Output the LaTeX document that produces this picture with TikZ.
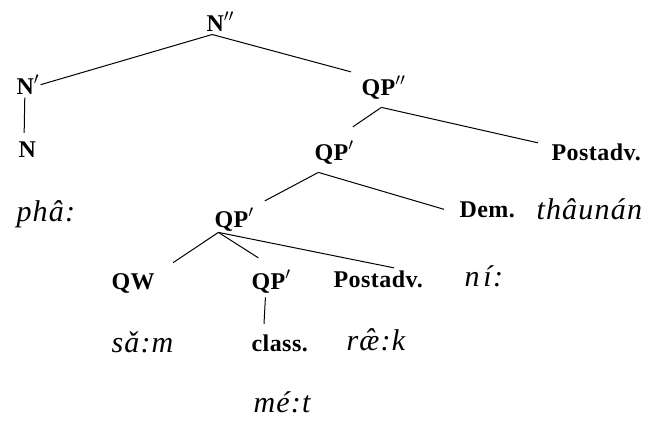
\documentclass[tikz,border=0pt]{standalone}
\usepackage{fontspec}
\setmainfont{Liberation Serif}
\newfontfamily\catfont[LetterSpace=2]{Liberation Serif}
\newfontfamily\wordfont[LetterSpace=4]{Liberation Serif}
\begin{document}
\begin{tikzpicture}[
    x=1pt, y=-1pt, line width=1pt,
    cat/.style={anchor=base west, inner sep=1pt, font=\catfont\bfseries\fontsize{24}{28}\selectfont},
    word/.style={anchor=base west, inner sep=1pt, font=\wordfont\itshape\fontsize{30}{34}\selectfont},
]
    \useasboundingbox (0,0) rectangle (647,421);

    % Categories
    \node[cat] (nn2) at (205,31) {N\rlap{$''$}};
    \node[cat] (nn1) at (15,94) {N$'$};
    \node[cat] (nn) at (17,157) {N};
    \node[cat] (qp2) at (360,95) {QP\rlap{$''$}};
    \node[cat] (qp1a) at (313,160) {QP\rlap{$'$}};
    \node[cat] (pa1) at (550,160) {Postadv.};
    \node[cat] (dem) at (458,217) {Dem.};
    \node[cat] (qp1b) at (213,227) {QP\rlap{$'$}};
    \node[cat] (qw) at (110,289) {QW};
    \node[cat] (qp1c) at (250,289) {QP\rlap{$'$}};
    \node[cat] (pa2) at (332,287) {Postadv.};
    \node[cat] (cl) at (250,351) {class.};

    % Words
    \node[word] (pha) at (15,221) {phâ:};
    \node[word] (thau) at (535,219) {thâunán};
    \node[word] (ni) at (463,286) {n\hspace{4pt}í:};
    \node[word] (sam) at (110,352) {sǎ:m};
    \node[word] (raek) at (345,350) {ræ̂:k};
    \node[word] (met) at (252,412) {mé:t};

    % Branches
    \coordinate (nn2-b) at ([xshift=-3pt,yshift=-2pt]nn2.south);
    \coordinate (qp2-b) at ([xshift=3pt,yshift=-7pt]qp2.south);
    \coordinate (qp1a-b) at ([xshift=-13pt,yshift=-7pt]qp1a.south);
    \coordinate (qp1b-b) at ([xshift=-13pt,yshift=0pt]qp1b.south);

    \draw (nn2-b) -- (nn1.east);
    \draw (nn2-b) -- ([xshift=-9pt,yshift=3pt]qp2.north west);
    \draw ([xshift=-3pt,yshift=-2pt]nn1.south) -- ([xshift=-3pt,yshift=7pt]nn.north);

    \draw (qp2-b) -- ([xshift=3pt,yshift=13pt]qp1a.north east);
    \draw (qp2-b) -- ([xshift=-12pt,yshift=-1pt]pa1.north west);

    \draw (qp1a-b) -- ([xshift=15pt,yshift=6pt]qp1b.north east);
    \draw (qp1a-b) -- ([xshift=-14pt]dem.west);

    \draw (qp1b-b) -- ([xshift=17pt,yshift=9pt]qw.north east);
    \draw (qp1b-b) -- ([xshift=-10pt,yshift=11pt]qp1c.north);
    \draw (qp1b-b) -- ([xshift=62pt,yshift=1pt]pa2.north west);

    \draw ([xshift=-3pt,yshift=-3pt]qp1c.south) -- ([xshift=14pt,yshift=9pt]cl.north west);
\end{tikzpicture}
\end{document}
